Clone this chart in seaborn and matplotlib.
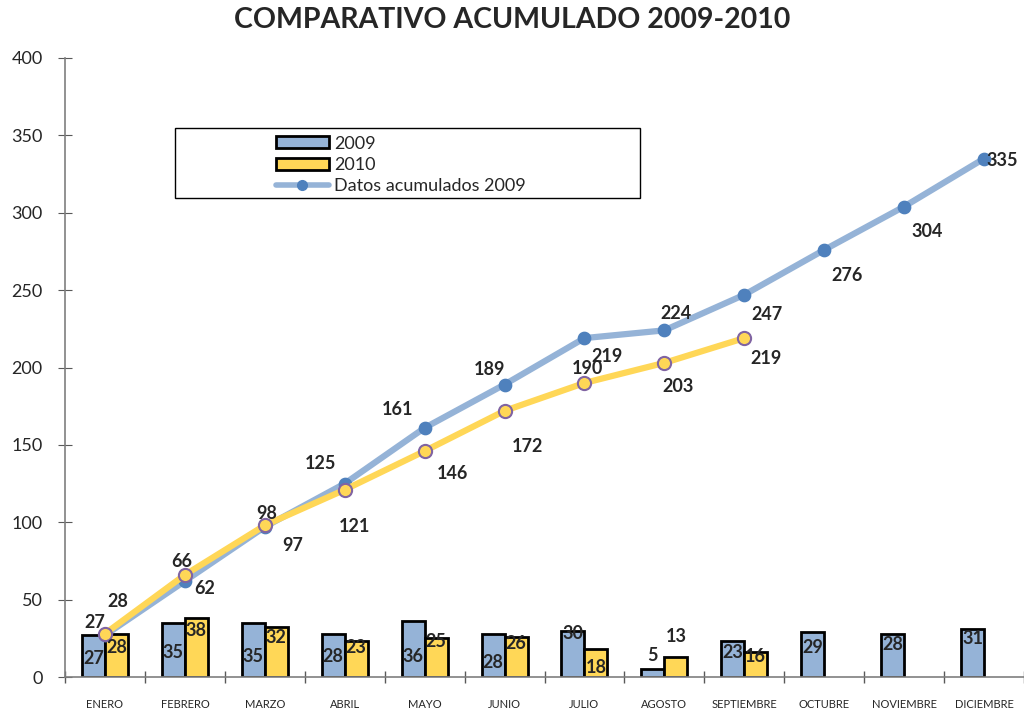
import numpy as np
import pandas as pd
import matplotlib
matplotlib.use("Agg")
import matplotlib.pyplot as plt
from matplotlib.patches import Patch, Rectangle
from matplotlib.lines import Line2D
import seaborn as sns

# datos
meses = ["ENERO", "FEBRERO", "MARZO", "ABRIL", "MAYO", "JUNIO", "JULIO",
         "AGOSTO", "SEPTIEMBRE", "OCTUBRE", "NOVIEMBRE", "DICIEMBRE"]
ventas_2009 = [27, 35, 35, 28, 36, 28, 30, 5, 23, 29, 28, 31]
ventas_2010 = [28, 38, 32, 23, 25, 26, 18, 13, 16]
acum_2009 = [27, 62, 97, 125, 161, 189, 219, 224, 247, 276, 304, 335]
acum_2010 = [28, 66, 98, 121, 146, 172, 190, 203, 219]

# desplazamiento de etiquetas (pixeles)
off_acum_2009 = [(-10, 13), (20, -7), (28, -19), (-24, 20), (-27, 18), (-15, 15),
                 (23, -18), (12, 17), (23, -20), (23, -26), (23, -25), (18, -2)]
off_acum_2010 = [(13, 32), (-3, 13), (2, 12), (10, -37), (28, -22), (23, -36),
                 (3, 14), (14, -24), (22, -20)]
off_bar_2009 = [23, 30, 34, 23, 35, 29, 3, -14, 11, 15, 11, 9]
off_bar_2010 = [14, 12, 10, 6, 3, 7, 18, -20, 4]

AZUL = "#95B3D7"
AZUL_OSC = "#4F81BD"
AMARILLO = "#FFD757"
MORADO = "#8064A2"

sns.set_style("ticks")
plt.rcParams["font.family"] = ["Lato", "DejaVu Sans"]

barras = pd.DataFrame({
    "mes": meses + meses[:len(ventas_2010)],
    "valor": ventas_2009 + ventas_2010,
    "anio": ["2009"] * len(ventas_2009) + ["2010"] * len(ventas_2010),
})

fig = plt.figure(figsize=(10.24, 7.15), dpi=100)
ax = fig.add_axes([65 / 1024, 38 / 715, 959 / 1024, 619 / 715])

sns.barplot(data=barras, x="mes", y="valor", hue="anio", order=meses,
            hue_order=["2009", "2010"], palette=[AZUL, AMARILLO], saturation=1,
            width=0.575, edgecolor="black", linewidth=2, legend=False,
            errorbar=None, ax=ax, zorder=2)

sns.pointplot(x=meses, y=acum_2009, order=meses, color=AZUL, linewidth=4.5,
              markers="o", markersize=6.5, markerfacecolor=AZUL_OSC,
              markeredgecolor=AZUL_OSC, errorbar=None, ax=ax, zorder=4)
sns.pointplot(x=meses[:len(acum_2010)], y=acum_2010, order=meses, color=AMARILLO,
              linewidth=4.5, markers="o", markersize=9.5, markerfacecolor=AMARILLO,
              markeredgecolor=MORADO, markeredgewidth=1.5, errorbar=None,
              ax=ax, zorder=5)

# etiquetas de barras
for cont, offs in zip(ax.containers, [off_bar_2009, off_bar_2010]):
    for bar, dy in zip(cont, offs):
        ax.annotate(f"{bar.get_height():.0f}",
                    (bar.get_x() + bar.get_width() / 2, bar.get_height()),
                    xytext=(0, -dy), textcoords="offset pixels",
                    ha="center", va="center", fontsize=13, fontweight="bold",
                    zorder=6)

# etiquetas acumuladas
for serie, offs in [(acum_2009, off_acum_2009), (acum_2010, off_acum_2010)]:
    for i, (v, (dx, dy)) in enumerate(zip(serie, offs)):
        ax.annotate(f"{v}", (i, v), xytext=(dx, dy), textcoords="offset pixels",
                    ha="center", va="center", fontsize=13, fontweight="bold",
                    zorder=7)

ax.set_xlim(-0.5, len(meses) - 0.5)
ax.set_ylim(0, 400)
ax.set_yticks(np.arange(0, 401, 50))
ax.set_xlabel("")
ax.set_ylabel("")
ax.set_xticks(np.arange(-0.5, len(meses), 1), minor=True)
ax.tick_params(axis="x", which="major", length=0, labelsize=8, pad=16)
ax.tick_params(axis="x", which="minor", length=8, direction="inout",
               color="#595959", width=1)
ax.tick_params(axis="y", length=10, direction="inout", color="#595959",
               labelsize=13, pad=11)
for lado in ["top", "right"]:
    ax.spines[lado].set_visible(False)
for lado in ["left", "bottom"]:
    ax.spines[lado].set_color("#7F7F7F")
    ax.spines[lado].set_linewidth(1.2)

# leyenda
ax.add_patch(Rectangle((0.1147, 0.774), 0.485, 0.113, transform=ax.transAxes,
                       facecolor="white", edgecolor="black", linewidth=1,
                       zorder=8))
handles = [
    Patch(facecolor=AZUL, edgecolor="black", linewidth=2, label="2009"),
    Patch(facecolor=AMARILLO, edgecolor="black", linewidth=2, label="2010"),
    Line2D([], [], color=AZUL, linewidth=4, marker="o", markersize=7,
           markerfacecolor=AZUL_OSC, markeredgecolor=AZUL_OSC,
           label="Datos acumulados 2009"),
]
leg = ax.legend(handles=handles, loc="upper left", bbox_to_anchor=(0.207, 0.895),
                frameon=False, fontsize=13, handlelength=2.9, handleheight=0.65,
                handletextpad=0.3, labelspacing=0.3, borderpad=0.2)
leg.set_zorder(9)

fig.suptitle("COMPARATIVO ACUMULADO 2009-2010", fontsize=20.5, fontweight="bold",
             y=0.99, va="top")

fig.savefig("out.png", dpi=100)
